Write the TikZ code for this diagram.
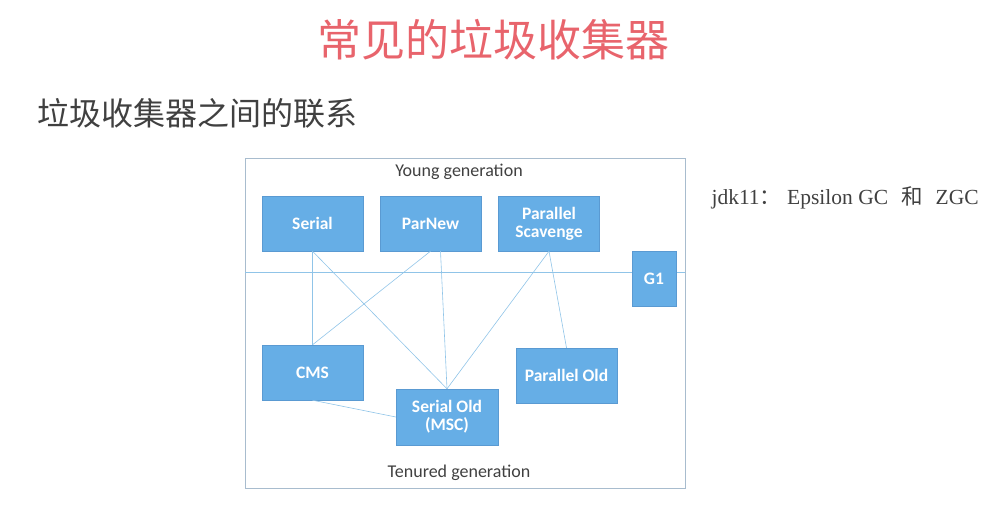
\documentclass[tikz,border=0pt]{standalone}
\usepackage{fontspec}
\setmainfont{Carlito}
\newfontfamily\cjk{Noto Sans CJK SC}
\newfontfamily\serifen{Liberation Serif}
\definecolor{titlered}{HTML}{E8646C}
\definecolor{subgray}{HTML}{404040}
\definecolor{boxfill}{HTML}{66AEE6}
\definecolor{boxline}{HTML}{5A9AD2}
\definecolor{linkblue}{HTML}{90C4E8}
\definecolor{framegray}{HTML}{A8BCCE}

\begin{document}
\begin{tikzpicture}[x=1pt,y=-1pt,
    gcbox/.style={draw=boxline, fill=boxfill, text=white, minimum width=101pt, minimum height=55pt,
                  align=center, inner sep=2pt, font=\bfseries\fontsize{17.5}{20}\selectfont},
    link/.style={draw=linkblue, line width=0.6pt},
    genlabel/.style={text=subgray, font=\fontsize{18}{21}\selectfont}]
    \useasboundingbox (0,0) rectangle (993,511);
%
    \node [text=titlered, font=\cjk\fontsize{44}{52}\selectfont] (title) at (493,40) {常见的垃圾收集器};
    \node [text=subgray, font=\cjk\fontsize{32}{38}\selectfont, anchor=west] (subtitle) at (34,113) {垃圾收集器之间的联系};
%
    \coordinate (frameNW) at (245,158);
    \coordinate (frameSE) at (685,488);
    \coordinate (splitW) at (245,272);
    \coordinate (splitE) at (685,272);
    \draw[draw=framegray, line width=0.8pt] (frameNW) rectangle (frameSE);
    \draw[link] (splitW) -- (splitE);
    \node [genlabel] (young) at (459,172) {Young generation};
    \node [genlabel] (tenured) at (459,473) {Tenured generation};
%
    \node [gcbox] (serial) at (312.5,223.5) {Serial};
    \node [gcbox] (parnew) at (430.5,223.5) {ParNew};
    \node [gcbox] (parscav) at (549,223.5) {Parallel\\[-2pt]Scavenge};
    \node [gcbox, minimum width=44pt] (g1) at (654,278.5) {G1};
    \node [gcbox] (cms) at (312.5,372.5) {CMS};
    \node [gcbox, minimum width=102pt, minimum height=56pt] (serialold) at (447,417) {Serial Old\\[-2pt](MSC)};
    \node [gcbox] (parold) at (566.5,375.5) {Parallel Old};
%
    \draw[link] (serial.south) -- (cms.north);
    \draw[link] (serial.south) -- (serialold.north);
    \draw[link] (parnew.south) -- (cms.north);
    \draw[link] ([xshift=10pt]parnew.south) -- (serialold.north);
    \draw[link] (parscav.south) -- (serialold.north);
    \draw[link] (parscav.south) -- (parold.north);
    \draw[link] (cms.south) -- (serialold.west);
%
    \node [anchor=west, text=subgray, font=\fontsize{21.5}{25}\selectfont] (jdknote) at (708,198)
        {\serifen jdk11\cjk ：\hspace{6pt}\serifen Epsilon GC\hspace{13pt}\cjk 和\hspace{13pt}\serifen ZGC};
\end{tikzpicture}
\end{document}
